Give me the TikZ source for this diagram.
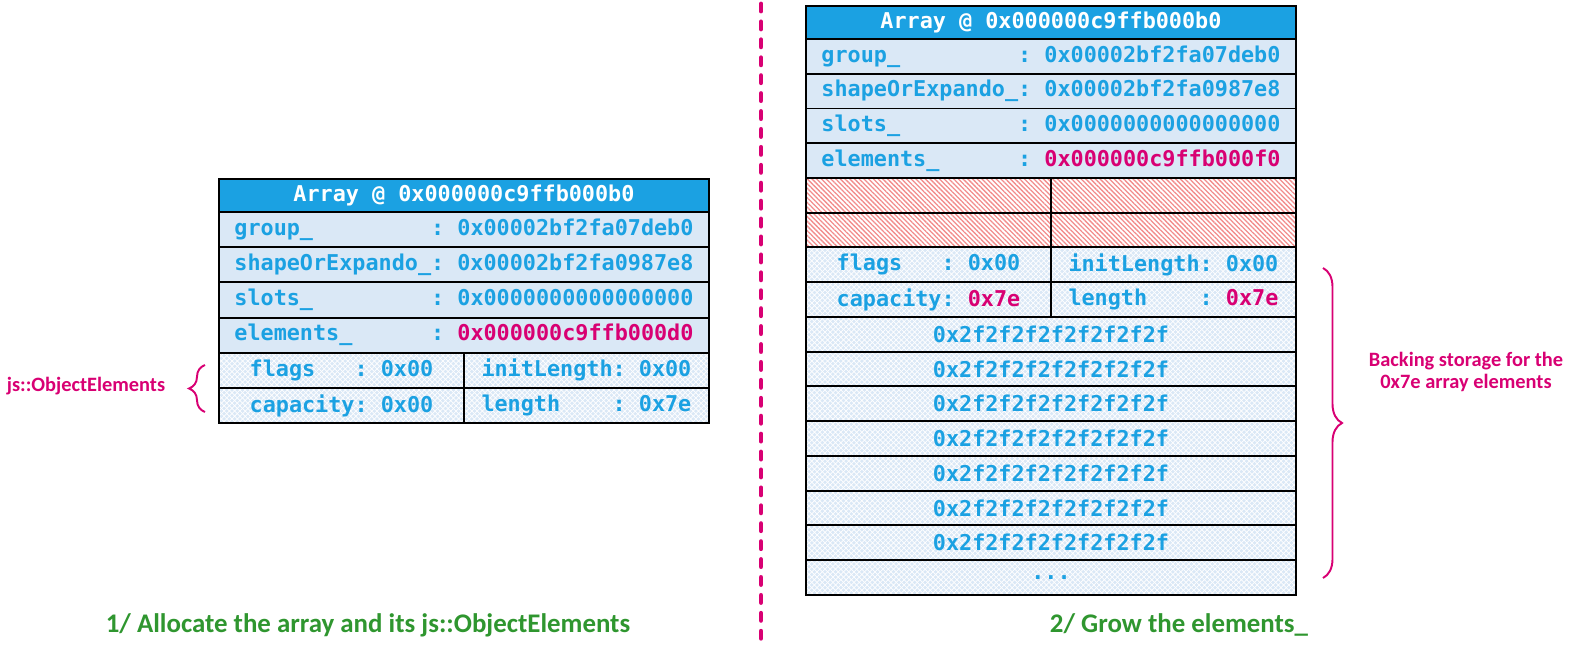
\documentclass[tikz,border=0pt]{standalone}
\usepackage{fontspec}
\usepackage{calc}
\setmainfont{Carlito}
\setmonofont{DejaVu Sans Mono}
\usetikzlibrary{positioning,patterns,patterns.meta,decorations.pathreplacing}

\definecolor{hdrblue}{RGB}{27,161,226}
\definecolor{rowblue}{RGB}{218,232,246}
\definecolor{ptrred}{RGB}{216,0,115}
\definecolor{capgreen}{RGB}{47,150,47}
\definecolor{hatchred}{RGB}{242,140,140}

% key padded to the width of a reference word, then ': value'
\newcommand\kv[3]{\makebox[\widthof{#1}][l]{#2}: #3}
\newcommand\ptr[1]{\textcolor{ptrred}{#1}}

\tikzset{
  mem/.style={draw=black, line width=1.1pt, outer sep=0pt, inner sep=0pt,
    minimum height=0.704cm, text=hdrblue,
    font=\ttfamily\bfseries\fontsize{12.4pt}{14pt}\selectfont},
  full/.style={mem, minimum width=9.8cm, fill=rowblue},
  hdr/.style={full, fill=hdrblue, text=white, minimum height=0.66cm},
  half/.style={mem, minimum width=4.9cm, preaction={fill=rowblue},
    pattern=crosshatch, pattern color=white},
  elem/.style={full, preaction={fill=rowblue}, pattern=crosshatch, pattern color=white},
  stale/.style={mem, minimum width=4.9cm,
    pattern={Lines[angle=-45, distance=1.9pt, line width=0.75pt]}, pattern color=hatchred},
  note/.style={text=ptrred, align=center, font=\bfseries\fontsize{11.6pt}{13pt}\selectfont},
  caption/.style={text=capgreen, font=\bfseries\fontsize{15.3pt}{18pt}\selectfont},
  brace/.style={draw=ptrred, line width=1.1pt, decorate},
}

\begin{document}
\begin{tikzpicture}[x=0.02cm, y=-0.02cm]
  \useasboundingbox (0,0) rectangle (1581,651);

  % 1/ array and its js::ObjectElements
  \node[hdr, anchor=north west] (a-hdr) at (219,179) {Array @ 0x000000c9ffb000b0};
  \node[full, below=0pt of a-hdr] (a-group) {\kv{shapeOrExpando\_}{group\_}{0x00002bf2fa07deb0}};
  \node[full, below=0pt of a-group] (a-shape) {\kv{shapeOrExpando\_}{shapeOrExpando\_}{0x00002bf2fa0987e8}};
  \node[full, below=0pt of a-shape] (a-slots) {\kv{shapeOrExpando\_}{slots\_}{0x0000000000000000}};
  \node[full, below=0pt of a-slots] (a-elem) {\kv{shapeOrExpando\_}{elements\_}{\ptr{0x000000c9ffb000d0}}};
  \node[half, anchor=north west] (a-flags) at (a-elem.south west) {\kv{capacity}{flags}{0x00}};
  \node[half, right=0pt of a-flags] (a-init) {\kv{initLength}{initLength}{0x00}};
  \node[half, below=0pt of a-flags] (a-cap) {\kv{capacity}{capacity}{0x00}};
  \node[half, below=0pt of a-init] (a-len) {\kv{initLength}{length}{0x7e}};

  \coordinate (a-brace-lo) at (205,412);
  \coordinate (a-brace-hi) at (205,365);
  \draw[brace, decoration={brace, amplitude=0.32cm}] (a-brace-lo) -- (a-brace-hi);
  \node[note] (a-note) at (86,386) {js::ObjectElements};

  \node[caption] (a-caption) at (368,625) {1/ Allocate the array and its js::ObjectElements};

  % separator
  \coordinate (sep-top) at (761,4);
  \coordinate (sep-bot) at (761,641);
  \draw[ptrred, line width=2.8pt, line cap=round, dash pattern=on 4pt off 6.2pt] (sep-top) -- (sep-bot);

  % 2/ grown elements
  \begin{scope}[mem/.append style={minimum height=0.695cm}]
  \node[hdr, anchor=north west, minimum height=0.66cm] (b-hdr) at (806,6) {Array @ 0x000000c9ffb000b0};
  \node[full, below=0pt of b-hdr] (b-group) {\kv{shapeOrExpando\_}{group\_}{0x00002bf2fa07deb0}};
  \node[full, below=0pt of b-group] (b-shape) {\kv{shapeOrExpando\_}{shapeOrExpando\_}{0x00002bf2fa0987e8}};
  \node[full, below=0pt of b-shape] (b-slots) {\kv{shapeOrExpando\_}{slots\_}{0x0000000000000000}};
  \node[full, below=0pt of b-slots] (b-elem) {\kv{shapeOrExpando\_}{elements\_}{\ptr{0x000000c9ffb000f0}}};
  \node[stale, anchor=north west] (b-old1) at (b-elem.south west) {};
  \node[stale, right=0pt of b-old1] (b-old2) {};
  \node[stale, below=0pt of b-old1] (b-old3) {};
  \node[stale, below=0pt of b-old2] (b-old4) {};
  \node[half, below=0pt of b-old3] (b-flags) {\kv{capacity}{flags}{0x00}};
  \node[half, below=0pt of b-old4] (b-init) {\kv{initLength}{initLength}{0x00}};
  \node[half, below=0pt of b-flags] (b-cap) {\kv{capacity}{capacity}{\ptr{0x7e}}};
  \node[half, below=0pt of b-init] (b-len) {\kv{initLength}{length}{\ptr{0x7e}}};
  \node[elem, anchor=north west] (b-v1) at (b-cap.south west) {0x2f2f2f2f2f2f2f2f};
  \foreach \i [count=\j from 1] in {2,...,7}
    \node[elem, below=0pt of b-v\j] (b-v\i) {0x2f2f2f2f2f2f2f2f};
  \node[elem, below=0pt of b-v7] (b-more) {...};
  \end{scope}

  \coordinate (b-brace-hi) at (1323,268);
  \coordinate (b-brace-lo) at (1323,578);
  \draw[brace, decoration={brace, amplitude=0.38cm}] (b-brace-hi) -- (b-brace-lo);
  \node[note] (b-note) at (1466,372) {Backing storage for the\\0x7e array elements};

  \node[caption] (b-caption) at (1179,625) {2/ Grow the elements\_};
\end{tikzpicture}
\end{document}
